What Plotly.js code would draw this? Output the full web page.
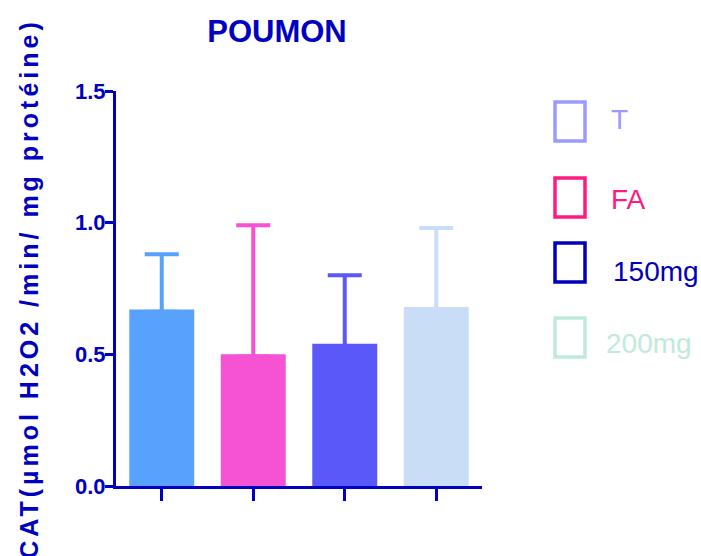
<!DOCTYPE html>
<html>
<head>
<meta charset="utf-8">
<script src="https://cdn.plot.ly/plotly-3.0.1.min.js"></script>
<style>
  html, body { margin: 0; padding: 0; background: #fff; }
  #chart { width: 701px; height: 556px; }
  .ytitle { letter-spacing: 4px; }
</style>
</head>
<body>
<div id="chart"></div>
<script>
// CAT activity in lung tissue, mean + SEM per group
const groups = ["T", "FA", "150mg", "200mg"];
const means = [0.67, 0.50, 0.54, 0.68];
const sem = [0.21, 0.49, 0.26, 0.30];
const barColors = ["#58a1fc", "#f652d4", "#5a58f9", "#c9ddf7"];

// Key entries drawn to the right of the plot
const legendLabels = ["T", "FA", "150mg", "200mg"];
const legendColors = ["#9a9aff", "#ff1a80", "#0000bb", "#bfeadb"];

const axisColor = "#0000c0";
const font = "'Liberation Sans', Arial, sans-serif";

// only the upper whisker is shown: the lower cap is kept inside the bar,
// where it has the bar's own colour
const lowerCap = 0.008;

const traces = groups.map((g, i) => ({
  type: "bar",
  x: [g],
  y: [means[i]],
  width: 0.71,
  marker: { color: barColors[i], line: { width: 0 } },
  error_y: {
    type: "data",
    symmetric: false,
    array: [sem[i]],
    arrayminus: [lowerCap],
    color: barColors[i],
    thickness: 4,
    width: 17
  },
  showlegend: false,
  hoverinfo: "skip"
}));

// plot area in pixels: x 116..482, y 91..486
const W = 701, H = 556;
const L = 116, R = 482, T = 91, B = 486;
const px = v => (v - L) / (R - L);
const py = v => (B - v) / (B - T);

const keyBoxes = [[102, 141], [178, 217], [243, 282], [318, 357]];
const keyText = [[609, 120], [609, 199], [611, 271], [604, 343]];

const shapes = legendLabels.map((lab, i) => ({
  type: "rect", xref: "paper", yref: "paper",
  x0: px(555), x1: px(585),
  y0: py(keyBoxes[i][1]), y1: py(keyBoxes[i][0]),
  line: { color: legendColors[i], width: 3.5 },
  fillcolor: "rgba(0,0,0,0)"
}));

const annotations = legendLabels.map((lab, i) => ({
  xref: "paper", yref: "paper",
  x: px(keyText[i][0]), y: py(keyText[i][1]),
  xanchor: "left", yanchor: "middle",
  text: lab, showarrow: false,
  font: { family: font, size: 28, color: legendColors[i] }
}));

const layout = {
  width: W, height: H,
  margin: { l: L, r: W - R, t: T, b: H - B, pad: 0 },
  paper_bgcolor: "#fff",
  plot_bgcolor: "#fff",
  barmode: "overlay",
  title: {
    text: "<b>POUMON</b>",
    font: { family: font, size: 31, color: axisColor },
    x: px(277), xref: "paper",
    y: 1 - 31 / H, yref: "container",
    xanchor: "center", yanchor: "middle"
  },
  xaxis: {
    type: "category",
    range: [-0.5, 3.5],
    showline: true, linecolor: axisColor, linewidth: 3,
    ticks: "outside", ticklen: 12, tickwidth: 3, tickcolor: axisColor,
    showticklabels: false,
    showgrid: false, zeroline: false, fixedrange: true
  },
  yaxis: {
    range: [0, 1.5],
    dtick: 0.5, tick0: 0,
    tickformat: ".1f",
    showline: true, linecolor: axisColor, linewidth: 3,
    ticks: "outside", ticklen: 8, tickwidth: 3, tickcolor: axisColor,
    ticklabelstandoff: -5,
    tickfont: { family: font, size: 22, color: axisColor, weight: "bold" },
    showgrid: false, zeroline: false, fixedrange: true,
    title: {
      text: "<b>CAT(µmol H2O2 /min/ mg protéine)</b>",
      font: { family: font, size: 25, color: axisColor },
      standoff: 30
    }
  },
  shapes: shapes,
  annotations: annotations,
  showlegend: false
};

Plotly.newPlot("chart", traces, layout, { staticPlot: true, displayModeBar: false });
</script>
</body>
</html>
